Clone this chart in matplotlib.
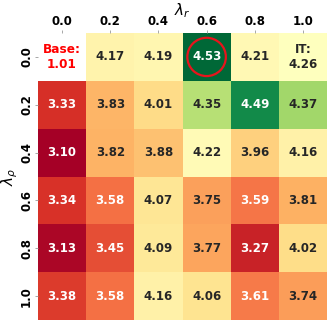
import numpy as np
import matplotlib
matplotlib.use("Agg")
import matplotlib.pyplot as plt
import seaborn as sns
from matplotlib.colors import TwoSlopeNorm
from matplotlib.patches import Circle

# lambda values on both axes
lam_r = ["0.0", "0.2", "0.4", "0.6", "0.8", "1.0"]
lam_rho = ["0.0", "0.2", "0.4", "0.6", "0.8", "1.0"]

# scores, rows = lambda_rho, cols = lambda_r
row_00 = [1.01, 4.17, 4.19, 4.53, 4.21, 4.26]
row_02 = [3.33, 3.83, 4.01, 4.35, 4.49, 4.37]
row_04 = [3.10, 3.82, 3.88, 4.22, 3.96, 4.16]
row_06 = [3.34, 3.58, 4.07, 3.75, 3.59, 3.81]
row_08 = [3.13, 3.45, 4.09, 3.77, 3.27, 4.02]
row_10 = [3.38, 3.58, 4.16, 4.06, 3.61, 3.74]

base_score = 1.01
it_score = 4.26

scores = np.array([row_00, row_02, row_04, row_06, row_08, row_10])

# base cell is shown as white with its own label
mask = np.zeros_like(scores, dtype=bool)
mask[0, 0] = True

labels = np.array([[f"{v:.2f}" for v in r] for r in scores], dtype=object)
labels[0, 5] = f"IT:\n{it_score:.2f}"

vals = scores[~mask]
best = np.unravel_index(np.argmax(np.where(mask, -np.inf, scores)), scores.shape)

fig = plt.figure(figsize=(3.32, 3.25), dpi=100)
ax = fig.add_axes([0.1145, 0.0154, 0.8705, 0.883])

sns.heatmap(scores, mask=mask, annot=labels, fmt="", cmap="RdYlGn",
            norm=TwoSlopeNorm(vmin=vals.min(), vcenter=it_score, vmax=vals.max()),
            cbar=False, ax=ax,
            annot_kws={"fontsize": 8.5, "fontweight": "bold"},
            xticklabels=lam_r, yticklabels=lam_rho)

ax.text(0.5, 0.5, f"Base:\n{base_score:.2f}", ha="center", va="center",
        color="red", fontsize=8.7, fontweight="bold")

ax.add_patch(Circle((best[1] + 0.5, best[0] + 0.5), 0.4, fill=False,
                    edgecolor="#e8141c", linewidth=1.6))

ax.xaxis.tick_top()
ax.xaxis.set_label_position("top")
ax.tick_params(length=2, width=0.6, pad=1.5, color="0.6")
ax.set_xlabel(r"$\lambda_r$", fontsize=11, labelpad=0)
ax.set_ylabel(r"$\lambda_\rho$", fontsize=11, labelpad=0)
plt.setp(ax.get_xticklabels(), fontweight="bold", fontsize=8.5, rotation=0)
plt.setp(ax.get_yticklabels(), fontweight="bold", fontsize=8.5, rotation=90, va="center")

fig.savefig("out.png", dpi=100)
